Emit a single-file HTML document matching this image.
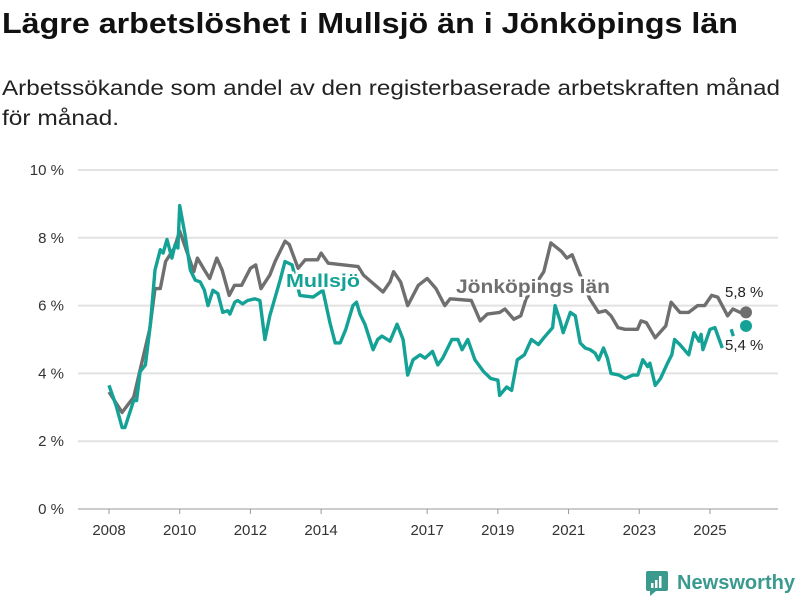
<!DOCTYPE html>
<html><head><meta charset="utf-8"><style>
body{margin:0;background:#fff;font-family:"Liberation Sans",sans-serif;}
svg{display:block}
</style></head><body>
<svg width="800" height="600" viewBox="0 0 800 600">
<text x="2" y="33" font-size="29" font-weight="bold" fill="#111" textLength="736" lengthAdjust="spacingAndGlyphs">Lägre arbetslöshet i Mullsjö än i Jönköpings län</text>
<text x="2" y="95" font-size="21" fill="#222" textLength="778" lengthAdjust="spacingAndGlyphs">Arbetssökande som andel av den registerbaserade arbetskraften månad</text>
<text x="2" y="125" font-size="21" fill="#222" textLength="117" lengthAdjust="spacingAndGlyphs">för månad.</text>
<g id="grid"></g>
<g id="series"></g>
<g id="labels">
<text x="286" y="287" font-size="18" font-weight="bold" fill="#14a296" stroke="#fff" stroke-width="5" paint-order="stroke" textLength="74" lengthAdjust="spacingAndGlyphs">Mullsjö</text>
<text x="456" y="293" font-size="19" font-weight="bold" fill="#6f6f6f" stroke="#fff" stroke-width="5" paint-order="stroke" textLength="154" lengthAdjust="spacingAndGlyphs">Jönköpings län</text>
<text x="725" y="297" font-size="15" fill="#222">5,8 %</text>
<text x="725" y="350" font-size="15" fill="#222" stroke="#fff" stroke-width="3" paint-order="stroke">5,4 %</text>
</g>
<g>
<rect x="646" y="571" width="22" height="20" rx="2" fill="#3a9a8e"/>
<polygon points="650,591 656,591 650,596" fill="#3a9a8e"/>
<rect x="651" y="583" width="2.5" height="5" fill="#fff"/><rect x="655" y="580" width="2.5" height="8" fill="#fff"/><rect x="659" y="576" width="2.5" height="12" fill="#fff"/>
<text x="677" y="589" font-size="20" font-weight="bold" fill="#3a9a8e" textLength="118" lengthAdjust="spacingAndGlyphs">Newsworthy</text>
</g>
</svg>
<script>
const yTicks=[0,2,4,6,8,10];
const xTicks=[2008,2010,2012,2014,2017,2019,2021,2023,2025];
const jkYears=[2008,2008.37,2008.7,2009.15,2009.3,2009.45,2009.6,2009.85,2010,2010.2,2010.4,2010.5,2010.7,2010.85,2011.05,2011.2,2011.4,2011.55,2011.75,2012,2012.15,2012.3,2012.55,2012.7,2012.98,2013.1,2013.35,2013.55,2013.9,2014,2014.2,2015.05,2015.2,2015.75,2015.95,2016.05,2016.25,2016.45,2016.75,2017,2017.25,2017.5,2017.65,2018.25,2018.5,2018.7,2019.05,2019.2,2019.45,2019.65,2019.8,2020.3,2020.5,2020.8,2020.95,2021.1,2021.27,2021.6,2021.85,2022.05,2022.2,2022.4,2022.6,2022.95,2023.05,2023.2,2023.45,2023.75,2023.9,2024.15,2024.4,2024.65,2024.85,2025.05,2025.22,2025.5,2025.65,2025.85,2026.02];
const jkVals=[3.45,2.85,3.3,5.3,6.5,6.5,7.3,7.7,8.2,7.6,7.0,7.4,7.05,6.8,7.4,7.05,6.3,6.6,6.6,7.1,7.2,6.5,6.9,7.3,7.9,7.8,7.1,7.35,7.35,7.55,7.25,7.15,6.9,6.4,6.7,7.0,6.7,6.0,6.6,6.8,6.5,6.0,6.2,6.15,5.55,5.75,5.8,5.9,5.6,5.7,6.2,7.0,7.85,7.6,7.4,7.5,7.05,6.2,5.8,5.85,5.7,5.35,5.3,5.3,5.55,5.5,5.05,5.4,6.1,5.8,5.8,6.0,6.0,6.3,6.25,5.7,5.9,5.8,5.8];
const muYears=[2008,2008.2,2008.37,2008.45,2008.7,2008.78,2008.88,2009.03,2009.17,2009.3,2009.45,2009.53,2009.64,2009.78,2009.87,2009.95,2010,2010.15,2010.3,2010.44,2010.58,2010.7,2010.8,2010.94,2011.08,2011.22,2011.36,2011.42,2011.56,2011.64,2011.78,2011.92,2012.13,2012.27,2012.41,2012.55,2012.84,2012.98,2013.18,2013.4,2013.77,2014.05,2014.25,2014.4,2014.54,2014.7,2014.9,2015.0,2015.1,2015.24,2015.47,2015.6,2015.72,2015.95,2016.15,2016.32,2016.45,2016.6,2016.8,2016.94,2017.15,2017.3,2017.44,2017.7,2017.87,2017.99,2018.15,2018.35,2018.6,2018.8,2019.0,2019.05,2019.25,2019.39,2019.55,2019.75,2019.95,2020.15,2020.3,2020.55,2020.62,2020.76,2020.85,2021.05,2021.19,2021.33,2021.47,2021.61,2021.75,2021.85,2021.99,2022.1,2022.2,2022.43,2022.6,2022.82,2022.96,2023.1,2023.24,2023.3,2023.45,2023.6,2023.8,2023.92,2024.0,2024.15,2024.4,2024.55,2024.69,2024.75,2024.8,2025.0,2025.14,2025.35,2025.42,2025.6,2025.66,2025.75,2026.02];
const muVals=[3.65,3.05,2.4,2.4,3.2,3.2,4.05,4.25,5.45,7.05,7.65,7.55,7.95,7.4,7.8,7.7,8.95,8.1,7.05,6.75,6.7,6.45,6.0,6.45,6.35,5.8,5.85,5.75,6.1,6.15,6.05,6.15,6.2,6.15,5.0,5.7,6.75,7.3,7.2,6.3,6.25,6.45,5.5,4.9,4.9,5.3,6.0,6.1,5.75,5.45,4.7,5.0,5.1,4.95,5.45,5.0,3.95,4.4,4.55,4.45,4.65,4.25,4.45,5.0,5.0,4.7,5.0,4.4,4.05,3.85,3.8,3.35,3.6,3.5,4.4,4.55,5.0,4.85,5.05,5.35,6.0,5.55,5.2,5.8,5.7,4.9,4.75,4.7,4.6,4.4,4.75,4.45,4.0,3.95,3.85,3.95,3.95,4.4,4.2,4.3,3.65,3.85,4.3,4.55,5.0,4.85,4.55,5.2,4.95,5.15,4.7,5.3,5.35,4.75,null,5.3,5.1,null,5.4];
const NS="http://www.w3.org/2000/svg";
const X0=109,PXY=35.35,Y0=509,PXV=33.9;
const xs=t=>X0+(t-2008)*PXY, ys=v=>Y0-v*PXV;
const grid=document.getElementById('grid'), ser=document.getElementById('series');
yTicks.forEach(v=>{
 const l=document.createElementNS(NS,'line');
 l.setAttribute('x1',78);l.setAttribute('x2',778);l.setAttribute('y1',ys(v));l.setAttribute('y2',ys(v));
 l.setAttribute('stroke',v===0?'#bbb':'#e2e2e2');l.setAttribute('stroke-width',v===0?1.5:2);
 
 
 grid.appendChild(l);
 const t=document.createElementNS(NS,'text');
 t.setAttribute('x',64);t.setAttribute('y',ys(v)+5);t.setAttribute('text-anchor','end');t.setAttribute('font-size',15);t.setAttribute('fill','#333');
 t.textContent=v+' %';
 
 
 grid.appendChild(t);
});
xTicks.forEach(y=>{
 const k=document.createElementNS(NS,'line');
 k.setAttribute('x1',xs(y));k.setAttribute('x2',xs(y));k.setAttribute('y1',509);k.setAttribute('y2',514);k.setAttribute('stroke','#999');
 
 
 grid.appendChild(k);
 const t=document.createElementNS(NS,'text');
 t.setAttribute('x',xs(y));t.setAttribute('y',535);t.setAttribute('text-anchor','middle');t.setAttribute('font-size',15);t.setAttribute('fill','#333');
 t.textContent=y;
 
 
 grid.appendChild(t);
});
function draw(years,vals,color,name){
 let d='',pen=false;
 years.forEach((t,i)=>{const v=vals[i];if(v===null){pen=false;return;}d+=(pen?'L':'M')+xs(t).toFixed(1)+','+ys(v).toFixed(1);pen=true;});
 const p=document.createElementNS(NS,'path');
 p.setAttribute('d',d);p.setAttribute('fill','none');p.setAttribute('stroke',color);p.setAttribute('stroke-width',3.4);p.setAttribute('stroke-linejoin','round');
 
 
 ser.appendChild(p);
 const c=document.createElementNS(NS,'circle');
 c.setAttribute('cx',xs(years[years.length-1]));c.setAttribute('cy',ys(vals[vals.length-1]));c.setAttribute('r',6);c.setAttribute('fill',color);
 
 
 ser.appendChild(c);
}
draw(jkYears,jkVals,'#6f6f6f','jonkoping');
draw(muYears,muVals,'#14a296','mullsjo');
</script>
</body></html>
